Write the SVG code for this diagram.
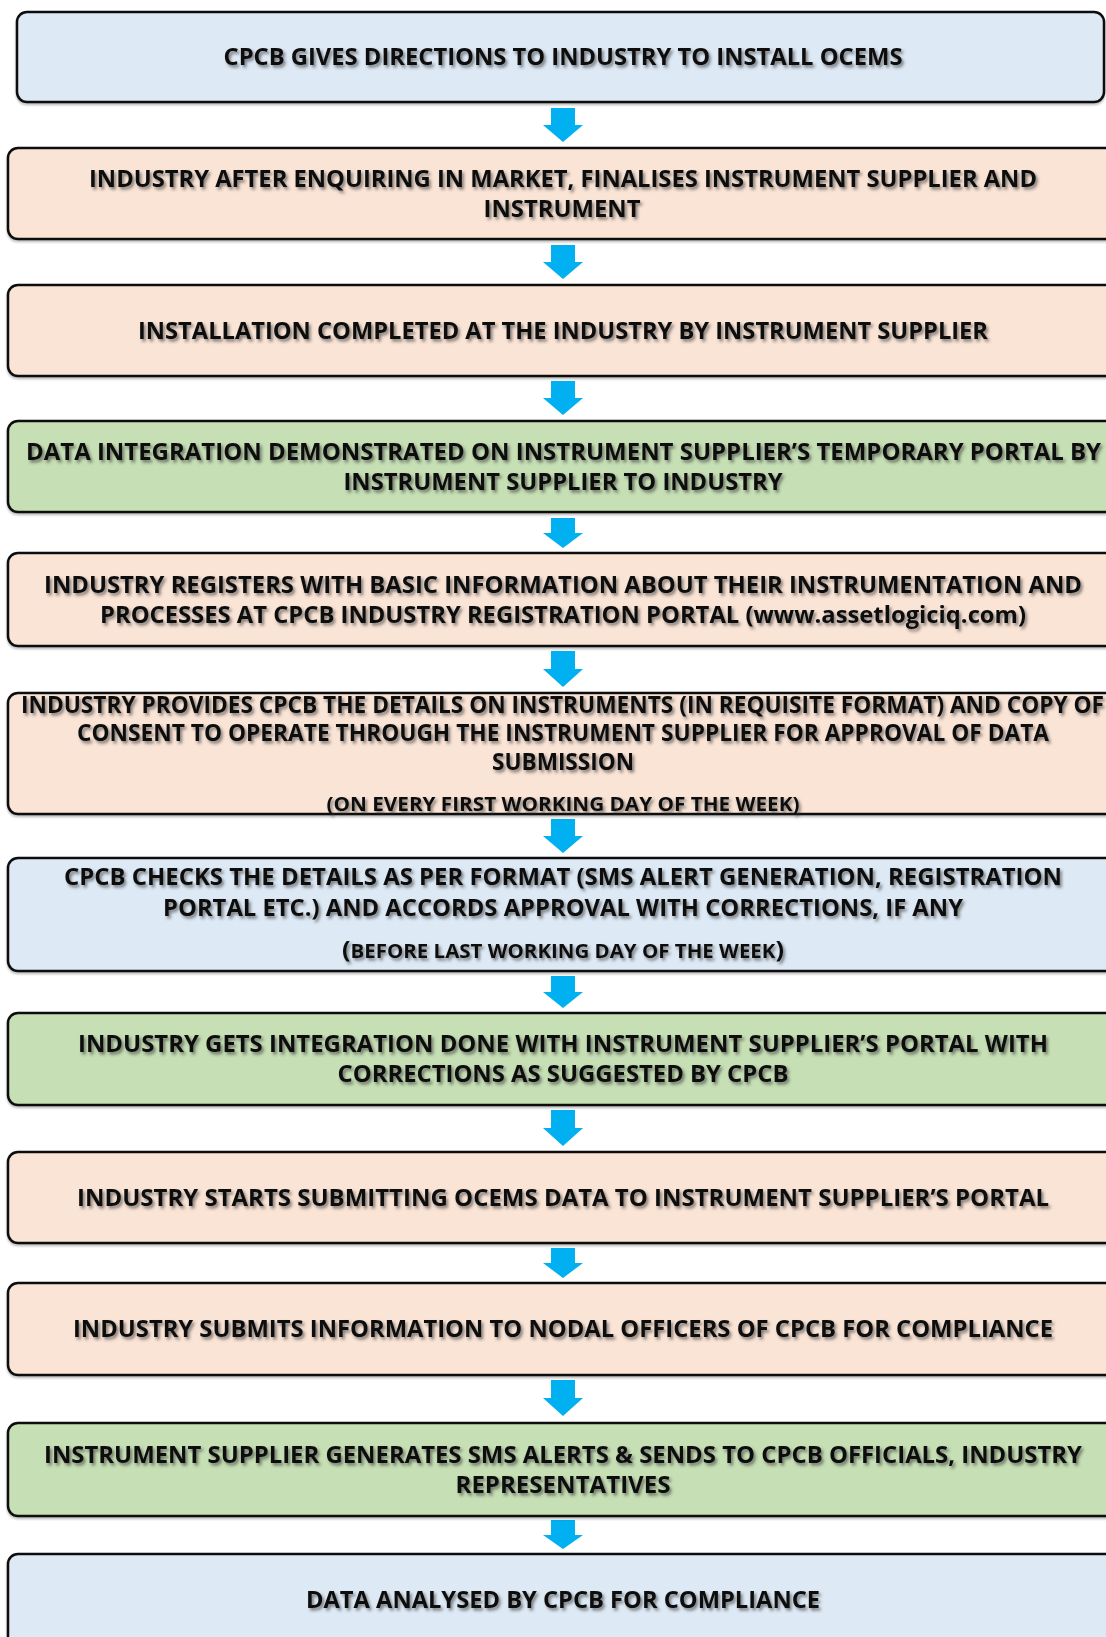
<svg xmlns="http://www.w3.org/2000/svg" width="1106" height="1637" viewBox="0 0 1106 1637">
<style>
.box{stroke:#111;stroke-width:2.5}
.blue{fill:#DDE9F5}
.peach{fill:#FAE4D6}
.green{fill:#C6DFB5}
text{font-family:"Open Sans","Noto Sans","Liberation Sans",sans-serif;font-weight:700;font-size:22.5px;fill:#111;text-anchor:middle}
text.sm{font-size:19.5px}
.par{font-size:24px}
.arrow{fill:#00B0F0}
</style>
<defs>
<filter id="ts" x="-5%" y="-50%" width="110%" height="200%">
<feDropShadow dx="2" dy="2.5" stdDeviation="1.4" flood-color="#333" flood-opacity="0.6"/>
</filter>
<filter id="bs" x="-5%" y="-10%" width="110%" height="130%">
<feDropShadow dx="0" dy="2" stdDeviation="1" flood-color="#000" flood-opacity="0.25"/>
</filter>
</defs>
<g id="connectors">
<path class="arrow" d="M551 108H575V125H583L563 142L543 125H551Z"/>
<path class="arrow" d="M551 245H575V262H583L563 279L543 262H551Z"/>
<path class="arrow" d="M551 381H575V398H583L563 415L543 398H551Z"/>
<path class="arrow" d="M551 518H575V533H583L563 548L543 533H551Z"/>
<path class="arrow" d="M551 651H575V669H583L563 687L543 669H551Z"/>
<path class="arrow" d="M551 819H575V836H583L563 853L543 836H551Z"/>
<path class="arrow" d="M551 976H575V992H583L563 1008L543 992H551Z"/>
<path class="arrow" d="M551 1110H575V1128H583L563 1146L543 1128H551Z"/>
<path class="arrow" d="M551 1248H575V1263H583L563 1278L543 1263H551Z"/>
<path class="arrow" d="M551 1380H575V1398H583L563 1416L543 1398H551Z"/>
<path class="arrow" d="M551 1520H575V1535H583L563 1549L543 1535H551Z"/>
</g>
<g id="n1">
<rect class="box blue" filter="url(#bs)" x="17" y="12" width="1087" height="90" rx="10"/>
<text filter="url(#ts)" x="563" y="65" textLength="679" lengthAdjust="spacingAndGlyphs">CPCB GIVES DIRECTIONS TO INDUSTRY TO INSTALL OCEMS</text>
</g>
<g id="n2">
<rect class="box peach" filter="url(#bs)" x="8" y="148" width="1112" height="91" rx="10"/>
<text filter="url(#ts)" x="563" y="186.5" textLength="948" lengthAdjust="spacingAndGlyphs">INDUSTRY AFTER ENQUIRING IN MARKET, FINALISES INSTRUMENT SUPPLIER AND</text>
<text filter="url(#ts)" x="562" y="217" textLength="157" lengthAdjust="spacingAndGlyphs">INSTRUMENT</text>
</g>
<g id="n3">
<rect class="box peach" filter="url(#bs)" x="8" y="285" width="1112" height="91" rx="10"/>
<text filter="url(#ts)" x="563" y="338.5" textLength="850" lengthAdjust="spacingAndGlyphs">INSTALLATION COMPLETED AT THE INDUSTRY BY INSTRUMENT SUPPLIER</text>
</g>
<g id="n4">
<rect class="box green" filter="url(#bs)" x="8" y="421" width="1112" height="91" rx="10"/>
<text filter="url(#ts)" x="563.5" y="459.5" textLength="1075" lengthAdjust="spacingAndGlyphs">DATA INTEGRATION DEMONSTRATED ON INSTRUMENT SUPPLIER’S TEMPORARY PORTAL BY</text>
<text filter="url(#ts)" x="563" y="489.5" textLength="439" lengthAdjust="spacingAndGlyphs">INSTRUMENT SUPPLIER TO INDUSTRY</text>
</g>
<g id="n5">
<rect class="box peach" filter="url(#bs)" x="8" y="553" width="1112" height="93" rx="10"/>
<text filter="url(#ts)" x="563" y="592.5" textLength="1038" lengthAdjust="spacingAndGlyphs">INDUSTRY REGISTERS WITH BASIC INFORMATION ABOUT THEIR INSTRUMENTATION AND</text>
<text filter="url(#ts)" x="563" y="622.5" textLength="926" lengthAdjust="spacingAndGlyphs">PROCESSES AT CPCB INDUSTRY REGISTRATION PORTAL (www.assetlogiciq.com)</text>
</g>
<g id="n6">
<rect class="box peach" filter="url(#bs)" x="8" y="693" width="1112" height="121" rx="10"/>
<text filter="url(#ts)" x="562.5" y="713" textLength="1083" lengthAdjust="spacingAndGlyphs">INDUSTRY PROVIDES CPCB THE DETAILS ON INSTRUMENTS (IN REQUISITE FORMAT) AND COPY OF</text>
<text filter="url(#ts)" x="563" y="740.5" textLength="972" lengthAdjust="spacingAndGlyphs">CONSENT TO OPERATE THROUGH THE INSTRUMENT SUPPLIER FOR APPROVAL OF DATA</text>
<text filter="url(#ts)" x="563" y="769.5" textLength="142" lengthAdjust="spacingAndGlyphs">SUBMISSION</text>
<text class="sm" filter="url(#ts)" x="563" y="810.5" textLength="473" lengthAdjust="spacingAndGlyphs">(ON EVERY FIRST WORKING DAY OF THE WEEK)</text>
</g>
<g id="n7">
<rect class="box blue" filter="url(#bs)" x="8" y="858" width="1112" height="113" rx="10"/>
<text filter="url(#ts)" x="563" y="885" textLength="998" lengthAdjust="spacingAndGlyphs">CPCB CHECKS THE DETAILS AS PER FORMAT (SMS ALERT GENERATION, REGISTRATION</text>
<text filter="url(#ts)" x="563" y="915.5" textLength="800" lengthAdjust="spacingAndGlyphs">PORTAL ETC.) AND ACCORDS APPROVAL WITH CORRECTIONS, IF ANY</text>
<text class="sm" filter="url(#ts)" x="563" y="958" textLength="442" lengthAdjust="spacingAndGlyphs"><tspan class="par">(</tspan>BEFORE LAST WORKING DAY OF THE WEEK<tspan class="par">)</tspan></text>
</g>
<g id="n8">
<rect class="box green" filter="url(#bs)" x="8" y="1013" width="1112" height="92" rx="10"/>
<text filter="url(#ts)" x="563" y="1052" textLength="970" lengthAdjust="spacingAndGlyphs">INDUSTRY GETS INTEGRATION DONE WITH INSTRUMENT SUPPLIER’S PORTAL WITH</text>
<text filter="url(#ts)" x="563" y="1082" textLength="451" lengthAdjust="spacingAndGlyphs">CORRECTIONS AS SUGGESTED BY CPCB</text>
</g>
<g id="n9">
<rect class="box peach" filter="url(#bs)" x="8" y="1152" width="1112" height="91" rx="10"/>
<text filter="url(#ts)" x="563" y="1205.5" textLength="972" lengthAdjust="spacingAndGlyphs">INDUSTRY STARTS SUBMITTING OCEMS DATA TO INSTRUMENT SUPPLIER’S PORTAL</text>
</g>
<g id="n10">
<rect class="box peach" filter="url(#bs)" x="8" y="1283" width="1112" height="92" rx="10"/>
<text filter="url(#ts)" x="563" y="1337" textLength="980" lengthAdjust="spacingAndGlyphs">INDUSTRY SUBMITS INFORMATION TO NODAL OFFICERS OF CPCB FOR COMPLIANCE</text>
</g>
<g id="n11">
<rect class="box green" filter="url(#bs)" x="8" y="1423" width="1112" height="93" rx="10"/>
<text filter="url(#ts)" x="563" y="1462.5" textLength="1038" lengthAdjust="spacingAndGlyphs">INSTRUMENT SUPPLIER GENERATES SMS ALERTS &amp; SENDS TO CPCB OFFICIALS, INDUSTRY</text>
<text filter="url(#ts)" x="563" y="1492.5" textLength="215" lengthAdjust="spacingAndGlyphs">REPRESENTATIVES</text>
</g>
<g id="n12">
<rect class="box blue" filter="url(#bs)" x="8" y="1554" width="1112" height="120" rx="10"/>
<text filter="url(#ts)" x="563" y="1608" textLength="514" lengthAdjust="spacingAndGlyphs">DATA ANALYSED BY CPCB FOR COMPLIANCE</text>
</g>
</svg>
